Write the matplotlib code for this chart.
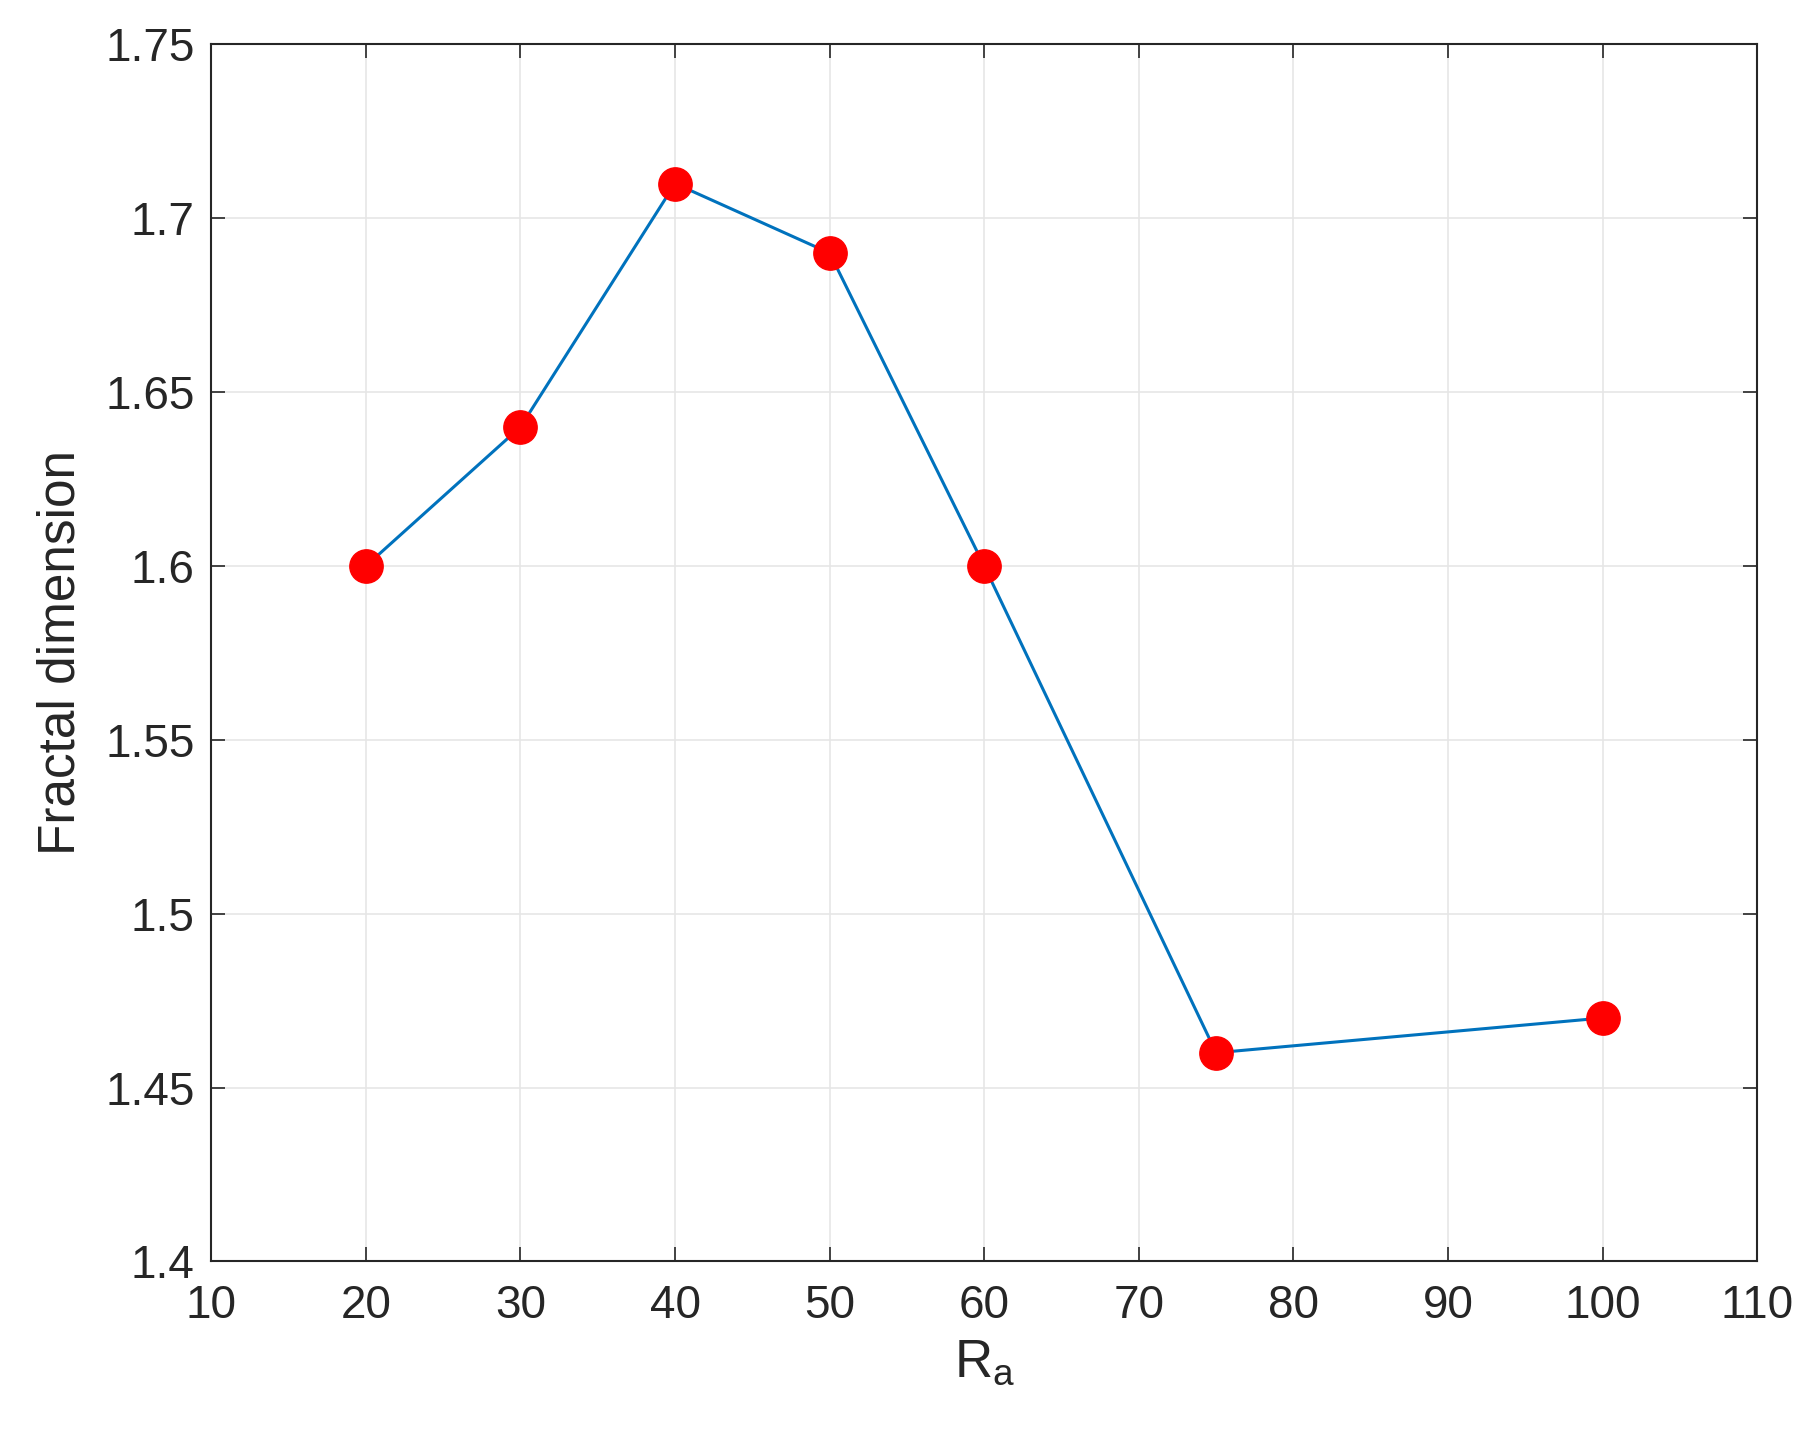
import matplotlib
matplotlib.use("Agg")
import matplotlib.pyplot as plt

ra = [20, 30, 40, 50, 60, 75, 100]
fd = [1.60, 1.64, 1.71, 1.69, 1.60, 1.46, 1.47]
xticks = [10, 20, 30, 40, 50, 60, 70, 80, 90, 100, 110]
yticks = [1.4, 1.45, 1.5, 1.55, 1.6, 1.65, 1.7, 1.75]
ylabels = ["1.4", "1.45", "1.5", "1.55", "1.6", "1.65", "1.7", "1.75"]

plt.rcParams['font.family'] = ['Liberation Sans', 'DejaVu Sans']
fig = plt.figure(figsize=(18.06, 14.35), dpi=100)
ax = fig.add_axes([0.117, 0.121, 0.856, 0.848])
ax.plot(ra, fd, color='#0072BD', lw=2.2, marker='o', ms=24,
        mfc='#FF0000', mec='#FF0000', zorder=3)
ax.set_xlim(10, 110)
ax.set_ylim(1.4, 1.75)
ax.set_xticks(xticks)
ax.set_yticks(yticks)
ax.set_yticklabels(ylabels)
ax.grid(True, color='#e6e6e6', lw=1.2)
ax.set_axisbelow(True)
ax.tick_params(labelsize=33, direction='in', length=10, width=1.2, colors='#262626',
               top=True, right=True)
ax.tick_params(axis='x', pad=16)
ax.tick_params(axis='y', pad=12)
for s in ax.spines.values():
    s.set_linewidth(1.5)
    s.set_color('#262626')
ax.set_xlabel(r"R$_\mathregular{a}$", fontsize=38, color='#262626', labelpad=8)
ax.set_ylabel("Fractal dimension", fontsize=37, color='#262626', labelpad=14)
fig.savefig("out.png", dpi=100)
